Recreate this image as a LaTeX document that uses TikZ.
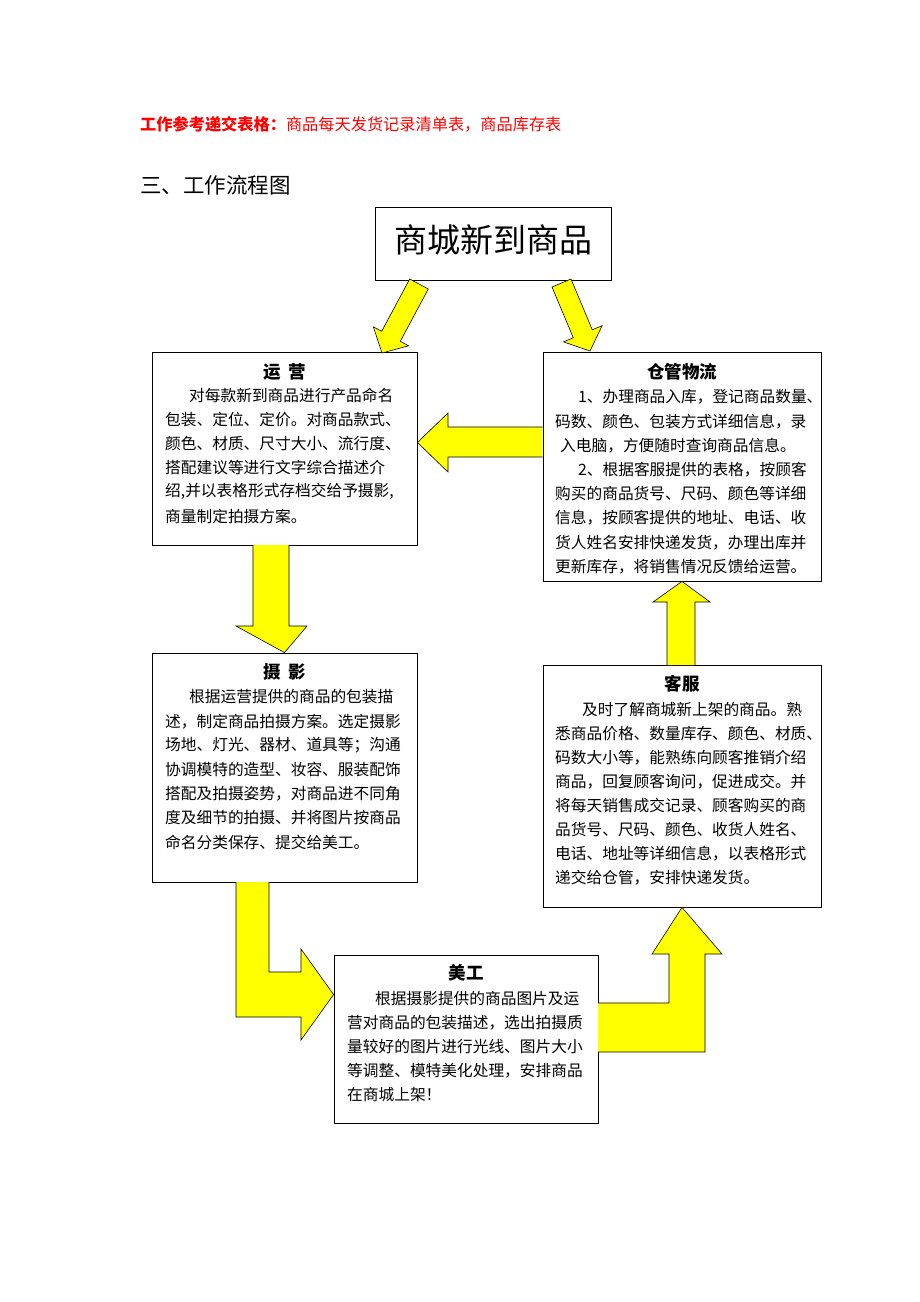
\documentclass[tikz,border=0pt]{standalone}
\usepackage{fontspec}
\setmainfont{Noto Sans CJK SC}
\XeTeXlinebreaklocale "zh"
\XeTeXlinebreakskip=0pt plus 1fil minus 2pt
\usetikzlibrary{calc}
\definecolor{ylw}{RGB}{255,255,0}
\definecolor{hdrred}{RGB}{255,0,0}
\tikzset{
 box/.style={draw=black, line width=0.8pt, fill=white, inner sep=0pt},
 blk/.style={draw=black, line width=0.6pt, fill=ylw, line join=miter},
 txt/.style={anchor=west, inner sep=0pt, font=\fontsize{15.7}{18}\selectfont},
 ttl/.style={inner sep=0pt, font=\fontsize{17.5}{19}\selectfont\bfseries},
}
\newcommand{\bdj}[5]{\node[txt] (#1) at (#2,#3) {\makebox[#4pt][s]{#5}};}
\newcommand{\bdp}[4]{\node[txt] (#1) at (#2,#3) {#4};}
\begin{document}
\begin{tikzpicture}[x=1pt,y=-1pt]
\useasboundingbox[fill=white] (0,0) rectangle (920,1302);

% header texts
\node[anchor=west, inner sep=0pt, text=hdrred, font=\fontsize{16.2}{18}\selectfont] (hdr) at (140,124)
  {\textbf{工作参考递交表格：}商品每天发货记录清单表，商品库存表};
\node[anchor=west, inner sep=0pt, font=\fontsize{21.5}{24}\selectfont] (sec) at (140,185) {三、工作流程图};

% boxes
\node[box, minimum width=236pt, minimum height=73pt] (top) at (493,243.5) {};
\node[font=\fontsize{33}{36}\selectfont, inner sep=0pt] (toptxt) at (493,240) {商城新到商品};
\node[box, minimum width=265pt, minimum height=193pt] (yy) at (284.5,448.5) {};
\node[box, minimum width=278pt, minimum height=229pt] (cg) at (682,466.5) {};
\node[box, minimum width=265pt, minimum height=229pt] (sy) at (284.5,767.5) {};
\node[box, minimum width=278pt, minimum height=242pt] (kf) at (682,786) {};
\node[box, minimum width=264pt, minimum height=168pt] (mg) at (466,1039) {};

% block arrows
\draw[blk] (409.7,279) -- (381.7,331.3) -- (373.4,326.9) -- (382,353) -- (408.6,345.8) -- (400.3,341.3) -- (428.3,289) -- cycle;
\draw[blk] (552,287) -- (573.3,337.8) -- (563.5,341.9) -- (590,351) -- (602.1,325.7) -- (592.3,329.8) -- (571,279) -- cycle;
\draw[blk] (cg.west |- 0,427) -- (448,427) -- (448,413) -- (yy.east |- 0,442.5) -- (448,472) -- (448,457) -- (cg.west |- 0,457);
\draw[blk] (253,545) -- (253,626) -- (236,626) -- (yy.south |- sy.north) -- (307,626) -- (289,626) -- (289,545);
\draw[blk] (667,665) -- (667,602) -- (653,602) -- (cg.south) -- (710,602) -- (695,602) -- (695,665);
\draw[blk] (236,882) -- (236,1017) -- (301,1017) -- (301,1040) -- (mg.west |- 0,994.5) -- (301,949) -- (301,972) -- (269,972) -- (269,882);
\draw[blk] (598,1003) -- (669,1003) -- (669,954) -- (652,954) -- (kf.south) -- (722,954) -- (705,954) -- (705,1052) -- (598,1052);

% titles
\node[ttl] (yyt) at (285,372) {运\hspace{0.45em}营};
\node[ttl] (cgt) at (682,372) {仓管物流};
\node[ttl] (syt) at (285,672) {摄\hspace{0.45em}影};
\node[ttl] (kft) at (682,684) {客服};
\node[ttl] (mgt) at (466,973) {美工};

% 运营 text
\bdj{yy1}{189}{395}{213}{对每款新到商品进行产品命名}
\bdj{yy2}{165}{419.2}{237}{包装、定位、定价。对商品款式、}
\bdj{yy3}{165}{443.4}{237}{颜色、材质、尺寸大小、流行度、}
\bdj{yy4}{165}{467.6}{237}{搭配建议等进行文字综合描述介}
\bdj{yy5}{165}{491.8}{237}{绍,并以表格形式存档交给予摄影,}
\bdp{yy6}{165}{516}{商量制定拍摄方案。}

% 仓管物流 text
\bdj{cg1}{578}{397}{243}{1、办理商品入库，登记商品数量、}
\bdj{cg2}{555}{421.2}{252}{码数、颜色、包装方式详细信息，录}
\bdp{cg3}{560}{445.4}{入电脑，方便随时查询商品信息。}
\bdj{cg4}{578}{469.6}{234}{2、根据客服提供的表格，按顾客}
\bdj{cg5}{555}{493.8}{252}{购买的商品货号、尺码、颜色等详细}
\bdj{cg6}{555}{518}{252}{信息，按顾客提供的地址、电话、收}
\bdj{cg7}{555}{542.2}{254}{货人姓名安排快递发货，办理出库并}
\bdp{cg8}{555}{566.4}{更新库存，将销售情况反馈给运营。}

% 摄影 text
\bdj{sy1}{189}{697}{213}{根据运营提供的商品的包装描}
\bdj{sy2}{165}{721.2}{237}{述，制定商品拍摄方案。选定摄影}
\bdj{sy3}{165}{745.4}{237}{场地、灯光、器材、道具等；沟通}
\bdj{sy4}{165}{769.6}{237}{协调模特的造型、妆容、服装配饰}
\bdj{sy5}{165}{793.8}{237}{搭配及拍摄姿势，对商品进不同角}
\bdj{sy6}{165}{818}{237}{度及细节的拍摄、并将图片按商品}
\bdp{sy7}{165}{842.2}{命名分类保存、提交给美工。}

% 客服 text
\bdj{kf1}{582}{710}{226}{及时了解商城新上架的商品。熟}
\bdj{kf2}{555}{734}{252}{悉商品价格、数量库存、颜色、材质、}
\bdj{kf3}{555}{758}{252}{码数大小等，能熟练向顾客推销介绍}
\bdj{kf4}{555}{782}{252}{商品，回复顾客询问，促进成交。并}
\bdj{kf5}{555}{806}{252}{将每天销售成交记录、顾客购买的商}
\bdj{kf6}{555}{830}{252}{品货号、尺码、颜色、收货人姓名、}
\bdj{kf7}{555}{854}{252}{电话、地址等详细信息，以表格形式}
\bdp{kf8}{555}{878}{递交给仓管，安排快递发货。}

% 美工 text
\bdj{mg1}{375}{999}{210}{根据摄影提供的商品图片及运}
\bdj{mg2}{347}{1023}{238}{营对商品的包装描述，选出拍摄质}
\bdj{mg3}{347}{1047}{238}{量较好的图片进行光线、图片大小}
\bdj{mg4}{347}{1071}{238}{等调整、模特美化处理，安排商品}
\bdp{mg5}{347}{1095}{在商城上架！}
\end{tikzpicture}
\end{document}
